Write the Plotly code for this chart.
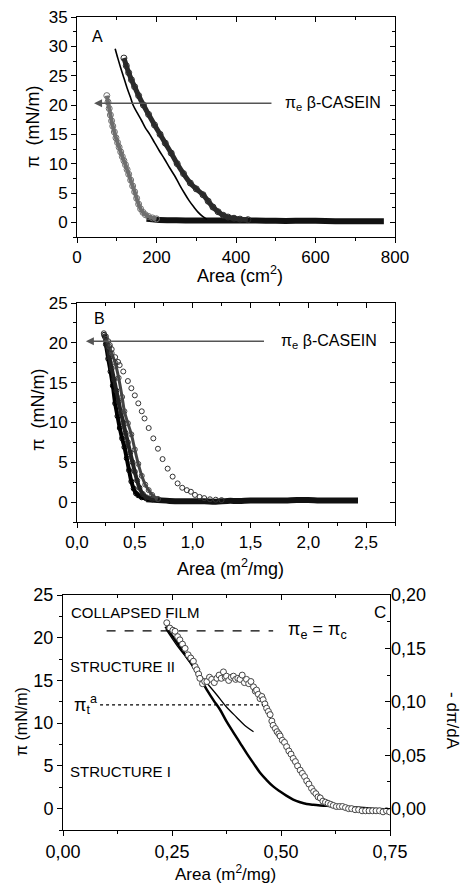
import plotly.graph_objects as go

# ---------------- Panel A data (Area cm2 vs pi mN/m) ----------------
A1_x = [75, 78, 81, 84, 87, 90, 94, 98, 102, 106, 110, 114, 118, 122, 126, 130, 135, 140, 145, 150, 155, 160, 166, 172, 180, 190, 200]
A1_y = [21.6, 20.5, 19.4, 18.3, 17.3, 16.4, 15.4, 14.4, 13.6, 12.8, 12.0, 11.2, 10.5, 9.8, 9.0, 8.2, 7.2, 6.2, 5.2, 4.1, 3.1, 2.3, 1.7, 1.3, 1.0, 0.75, 0.6]
A2_x = [118, 124, 130, 137, 145, 155, 167, 180, 195, 209, 222, 237, 252, 268, 285, 300, 317, 330, 342, 355, 368, 380, 395, 410, 430]
A2_y = [28.0, 26.7, 25.5, 24.3, 23.1, 21.6, 20.0, 18.4, 16.6, 15.0, 13.5, 11.8, 10.0, 8.3, 6.7, 5.7, 4.7, 3.6, 2.6, 1.8, 1.2, 0.9, 0.7, 0.55, 0.45]
Aline_x = [96, 103, 110, 118, 126, 134, 141, 152, 162, 172, 183, 195, 207, 220, 233, 246, 258, 270, 282, 294, 305, 316, 327]
Aline_y = [29.6, 27.9, 26.3, 24.6, 22.9, 21.4, 20.0, 18.6, 17.4, 16.1, 15.0, 13.6, 12.2, 10.8, 9.3, 7.9, 6.4, 5.0, 3.7, 2.6, 1.7, 1.0, 0.5]
Atail_x = [175, 200, 250, 300, 350, 400, 450, 500, 550, 600, 650, 700, 740, 772]
Atail_y = [0.6, 0.45, 0.35, 0.3, 0.3, 0.3, 0.3, 0.25, 0.25, 0.25, 0.2, 0.2, 0.2, 0.2]

# ---------------- Panel B data (Area m2/mg vs pi) ----------------
Bc_x = [0.232, 0.25, 0.27, 0.284, 0.30, 0.33, 0.355, 0.369, 0.40, 0.44, 0.47, 0.50, 0.53, 0.56, 0.584, 0.62, 0.66, 0.70, 0.74, 0.784, 0.827, 0.87, 0.91, 0.95, 0.985, 1.02, 1.06, 1.10, 1.15, 1.20, 1.25]
Bc_y = [21.2, 20.8, 20.2, 19.7, 19.2, 18.2, 17.6, 17.2, 16.4, 15.2, 14.3, 13.4, 12.4, 11.4, 10.5, 9.3, 8.0, 6.7, 5.4, 4.2, 3.2, 2.35, 1.8, 1.5, 1.3, 0.9, 0.65, 0.5, 0.35, 0.3, 0.25]
B1_x = [0.235, 0.25, 0.27, 0.29, 0.31, 0.33, 0.35, 0.37, 0.39, 0.41, 0.43, 0.45, 0.47, 0.49, 0.51, 0.53, 0.56, 0.60, 0.65, 0.70]
B1_y = [21.0, 19.8, 18.0, 16.4, 14.6, 12.4, 10.8, 9.3, 8.0, 6.9, 5.5, 4.0, 2.6, 1.7, 1.1, 0.85, 0.6, 0.45, 0.35, 0.3]
B2_x = [0.24, 0.26, 0.28, 0.30, 0.32, 0.34, 0.36, 0.38, 0.40, 0.42, 0.44, 0.46, 0.48, 0.50, 0.52, 0.54, 0.57, 0.60, 0.65, 0.70]
B2_y = [20.8, 19.6, 18.2, 16.8, 15.4, 14.0, 12.6, 11.2, 10.0, 8.7, 7.5, 6.2, 5.0, 3.8, 2.7, 1.8, 1.0, 0.6, 0.4, 0.3]
B3_x = [0.25, 0.28, 0.30, 0.33, 0.36, 0.39, 0.41, 0.44, 0.47, 0.50, 0.53, 0.56, 0.59, 0.62, 0.65, 0.70]
B3_y = [20.5, 19.5, 18.7, 17.5, 15.6, 13.2, 11.4, 9.9, 8.5, 6.6, 4.8, 3.3, 2.2, 1.5, 0.9, 0.4]
Btail_x = [0.60, 0.70, 0.80, 0.90, 1.00, 1.10, 1.20, 1.30, 1.40, 1.50, 1.60, 1.70, 1.80, 1.90, 2.00, 2.10, 2.20, 2.30, 2.43]
Btail_y = [0.35, 0.25, 0.15, 0.1, 0.1, 0.1, 0.05, 0.15, 0.15, 0.2, 0.2, 0.2, 0.2, 0.25, 0.25, 0.2, 0.2, 0.2, 0.2]

# ---------------- Panel C data ----------------
Cpi_x = [0.235, 0.245, 0.255, 0.268, 0.283, 0.299, 0.315, 0.330, 0.345, 0.360, 0.375, 0.391, 0.406, 0.421, 0.437, 0.452,
         0.467, 0.482, 0.498, 0.513, 0.528, 0.544, 0.559, 0.574, 0.590, 0.605, 0.620, 0.650, 0.680, 0.710, 0.750]
Cpi_y = [21.3, 20.6, 19.9, 18.95, 17.8, 16.6, 15.2, 13.9, 12.7, 11.6, 10.2, 8.9, 7.7, 6.5, 5.3, 4.2,
         3.35, 2.6, 2.0, 1.5, 1.05, 0.75, 0.55, 0.45, 0.38, 0.33, 0.3, 0.2, 0.1, 0.0, -0.1]
Cfit_x = [0.236, 0.26, 0.284, 0.307, 0.330, 0.353, 0.375, 0.398, 0.420, 0.437]
Cfit_y = [21.0, 19.2, 17.6, 16.1, 14.7, 13.3, 11.9, 10.7, 9.6, 9.0]
Cder_x = [0.238, 0.245, 0.252, 0.257, 0.263, 0.268, 0.274, 0.280, 0.287, 0.293,
          0.299, 0.303, 0.307, 0.311, 0.314, 0.320, 0.325, 0.330, 0.336, 0.341,
          0.347, 0.353, 0.358, 0.363, 0.368, 0.372, 0.375, 0.380, 0.386, 0.391,
          0.396, 0.401, 0.406, 0.411, 0.416, 0.421, 0.426, 0.431, 0.437, 0.441,
          0.444, 0.448, 0.452, 0.456, 0.459, 0.463, 0.467, 0.471, 0.475, 0.479,
          0.482, 0.487, 0.491, 0.495, 0.498, 0.503, 0.508, 0.513, 0.518, 0.523,
          0.528, 0.533, 0.538, 0.544, 0.549, 0.554, 0.559, 0.564, 0.570, 0.575,
          0.580, 0.585, 0.590, 0.596, 0.602, 0.608, 0.614, 0.620, 0.627, 0.634,
          0.641, 0.648, 0.655, 0.662, 0.670, 0.678, 0.686, 0.694, 0.702, 0.710,
          0.718, 0.726, 0.734, 0.742, 0.749]
Cder_y = [0.174, 0.169, 0.167, 0.166, 0.161, 0.158, 0.154, 0.150, 0.144, 0.141,
          0.138, 0.133, 0.130, 0.126, 0.122, 0.117, 0.119, 0.119, 0.123, 0.121,
          0.118, 0.122, 0.125, 0.122, 0.128, 0.123, 0.124, 0.120, 0.123, 0.124,
          0.121, 0.122, 0.121, 0.125, 0.118, 0.121, 0.117, 0.119, 0.114, 0.110,
          0.111, 0.107, 0.103, 0.105, 0.102, 0.098, 0.094, 0.091, 0.088, 0.082,
          0.078, 0.075, 0.072, 0.070, 0.068, 0.064, 0.062, 0.058, 0.054, 0.051,
          0.047, 0.044, 0.040, 0.036, 0.033, 0.030, 0.026, 0.023, 0.019, 0.016,
          0.014, 0.011, 0.010, 0.007, 0.006, 0.005, 0.004, 0.003, 0.002, 0.002,
          0.002, 0.001, 0.000, 0.000, -0.001, -0.001, -0.002, -0.002, -0.002, -0.002,
          -0.002, -0.002, -0.003, -0.002, -0.003]

pi_e_A = 20.3
pi_e_B = 20.2
pi_e_C = 20.8
pi_t_C = 12.15

FONT = "Liberation Sans, Arial, sans-serif"
W, H = 461, 886

fig = go.Figure()

def circ(x, y, color, xa, ya, size=5, lw=1.5):
    fig.add_trace(go.Scatter(x=x, y=y, xaxis=xa, yaxis=ya, mode="lines+markers",
                             line=dict(color=color, width=lw, shape="spline"),
                             marker=dict(symbol="circle-open", size=size, color=color, line=dict(width=1)),
                             showlegend=False, hoverinfo="skip"))

def line(x, y, color, xa, ya, w=1.5):
    fig.add_trace(go.Scatter(x=x, y=y, xaxis=xa, yaxis=ya, mode="lines",
                             line=dict(color=color, width=w, shape="spline"),
                             showlegend=False, hoverinfo="skip"))

def empty(xa, ya):
    # registers the mirror-tick axes so they get drawn; carries no data
    fig.add_trace(go.Scatter(x=[], y=[], xaxis=xa, yaxis=ya, mode="markers",
                             showlegend=False, hoverinfo="skip"))

# Panel A
line(Atail_x, Atail_y, "#111", "x", "y", 6)
circ(A1_x, A1_y, "#6e6e6e", "x", "y", 6, 4)
circ(A2_x, A2_y, "#2a2a2a", "x", "y", 6, 5)
line(Aline_x, Aline_y, "#000", "x", "y", 1.6)

# Panel B
line(Btail_x, Btail_y, "#111", "x2", "y2", 6)
circ(B1_x, B1_y, "#000", "x2", "y2", 5, 4)
circ(B2_x, B2_y, "#222", "x2", "y2", 5, 4)
circ(B3_x, B3_y, "#444", "x2", "y2", 5, 3)
fig.add_trace(go.Scatter(x=Bc_x, y=Bc_y, xaxis="x2", yaxis="y2", mode="markers",
                         marker=dict(symbol="circle-open", size=5, color="#333", line=dict(width=1)),
                         showlegend=False, hoverinfo="skip"))

# Panel C
line(Cpi_x, Cpi_y, "#000", "x3", "y3", 2.5)
line(Cfit_x, Cfit_y, "#000", "x3", "y3", 1.3)
fig.add_trace(go.Scatter(x=Cder_x, y=Cder_y, xaxis="x3", yaxis="y4", mode="markers",
                         marker=dict(symbol="circle", size=6, color="white", line=dict(width=1, color="#444")),
                         showlegend=False, hoverinfo="skip"))

empty("x7", "y"); empty("x", "y7")
empty("x8", "y2"); empty("x2", "y8")
empty("x9", "y3")

def dom_x(l, r):
    return [l / W, r / W]

def dom_y(top, bot):
    return [1 - bot / H, 1 - top / H]

tickfont = dict(family=FONT, size=17, color="#000")
tickfontC = dict(family=FONT, size=18, color="#000")

def main_axis(domain, rng, dtick, mdtick, anchor, fmt=None, tf=tickfont):
    d = dict(domain=domain, range=rng, anchor=anchor, showgrid=False, zeroline=False, automargin=False,
             showline=True, linecolor="#000", linewidth=1, mirror=True,
             ticks="outside", ticklen=5, tickwidth=1, tickcolor="#000",
             tick0=0, dtick=dtick, tickfont=tf,
             minor=dict(ticks="outside", ticklen=3, tickcolor="#000", dtick=mdtick, tick0=0))
    if fmt:
        d["tickformat"] = fmt
    return d

def mirror_axis(overlay, side, rng, dtick, mdtick, anchor):
    return dict(overlaying=overlay, side=side, range=rng, anchor=anchor, showgrid=False, automargin=False,
                zeroline=False, showline=False, ticks="inside", ticklen=5, tickwidth=1,
                tickcolor="#000", tick0=0, dtick=dtick, showticklabels=False,
                minor=dict(ticks="inside", ticklen=3, tickcolor="#000", dtick=mdtick, tick0=0))

xA = dom_x(77, 395); yA = dom_y(17, 237)
xB = dom_x(77, 395); yB = dom_y(303, 522)
xC = dom_x(63, 390); yC = dom_y(595, 830)

rAx, rAy = [0, 800], [-2.5, 35]
rBx, rBy = [0, 2.75], [-2.5, 25]
rCx, rCy, rCy2 = [0, 0.75], [-2.5, 25], [-0.02, 0.2]

layout = dict(
    width=W, height=H, margin=dict(l=0, r=0, t=0, b=0, pad=0, autoexpand=False),
    paper_bgcolor="white", plot_bgcolor="white", separators=", ",
    font=dict(family=FONT, color="#000"), showlegend=False,
    xaxis=main_axis(xA, rAx, 200, 100, "y"),
    yaxis=main_axis(yA, rAy, 5, 2.5, "x"),
    xaxis2=main_axis(xB, rBx, 0.5, 0.25, "y2", ".1f"),
    yaxis2=main_axis(yB, rBy, 5, 2.5, "x2"),
    xaxis3=main_axis(xC, rCx, 0.25, 0.125, "y3", ".2f", tickfontC),
    yaxis3=main_axis(yC, rCy, 5, 2.5, "x3", None, tickfontC),
    yaxis4=dict(overlaying="y3", side="right", anchor="x3", range=rCy2, showgrid=False, zeroline=False,
                automargin=False, showline=False, ticks="inside", ticklen=5, tickcolor="#000", tick0=0,
                dtick=0.05, tickformat=".2f", tickfont=tickfontC,
                minor=dict(ticks="inside", ticklen=3, tickcolor="#000", dtick=0.025, tick0=0)),
    xaxis7=mirror_axis("x", "top", rAx, 200, 100, "y"),
    yaxis7=mirror_axis("y", "right", rAy, 5, 2.5, "x"),
    xaxis8=mirror_axis("x2", "top", rBx, 0.5, 0.25, "y2"),
    yaxis8=mirror_axis("y2", "right", rBy, 5, 2.5, "x2"),
    xaxis9=mirror_axis("x3", "top", rCx, 0.25, 0.125, "y3"),
)
fig.update_layout(**layout)

ann = []
def text(t, x, y, xref, yref, size=15, xanchor="left", angle=0, color="#000"):
    ann.append(dict(text=t, x=x, y=y, xref=xref, yref=yref, showarrow=False, xanchor=xanchor,
                    yanchor="middle", textangle=angle, font=dict(family=FONT, size=size, color=color)))

def ptext(t, px, py, size=17, angle=0):
    text(t, px / W, 1 - py / H, "paper", "paper", size, "center", angle)

# axis titles
ptext("Area (cm<sup>2</sup>)", 240, 274, 18)
ptext("π  (mN/m)", 33, 127, 18, -90)
ptext("Area (m<sup>2</sup>/mg)", 230, 567, 18)
ptext("π  (mN/m)", 38, 410, 18, -90)
ptext("Area (m<sup>2</sup>/mg)", 225, 873, 17)
ptext("π (mN/m)", 21, 722, 16, -90)
ptext("- dπ/dA", 453, 721, 17, 90)

# panel labels and text
text("A", 33, 31.7, "x", "y", 16)
text("π<sub>e</sub> β-CASEIN", 518, pi_e_A, "x", "y", 16)
text("B", 0.13, 23.0, "x2", "y2", 16)
text("π<sub>e</sub> β-CASEIN", 1.744, pi_e_B, "x2", "y2", 16)
text("C", 0.745, 23.0, "x3", "y3", 17, "right")
text("COLLAPSED FILM", 0.014, 23.0, "x3", "y3", 15)
text("STRUCTURE II", 0.012, 16.6, "x3", "y3", 15)
text("STRUCTURE I", 0.012, 4.3, "x3", "y3", 15)
text("π<sub>e</sub> = π<sub>c</sub>", 0.512, pi_e_C, "x3", "y3", 18)
text("π<sub>t</sub><sup>a</sup>", 0.02, pi_t_C, "x3", "y3", 18)

# arrows
ann.append(dict(x=43, y=pi_e_A, ax=493, ay=pi_e_A, xref="x", yref="y", axref="x", ayref="y",
                showarrow=True, arrowhead=2, arrowsize=1, arrowwidth=1.6, arrowcolor="#555", text=""))
ann.append(dict(x=0.077, y=pi_e_B, ax=1.63, ay=pi_e_B, xref="x2", yref="y2", axref="x2", ayref="y2",
                showarrow=True, arrowhead=2, arrowsize=1, arrowwidth=1.6, arrowcolor="#555", text=""))
fig.update_layout(annotations=ann)

# reference lines in C
fig.add_shape(type="line", x0=0.1, x1=0.482, y0=pi_e_C, y1=pi_e_C, xref="x3", yref="y3",
              line=dict(color="#000", width=1.3, dash="dash"))
fig.add_shape(type="line", x0=0.085, x1=0.459, y0=pi_t_C, y1=pi_t_C, xref="x3", yref="y3",
              line=dict(color="#000", width=1.3, dash="dot"))

fig.write_html("out.html")
